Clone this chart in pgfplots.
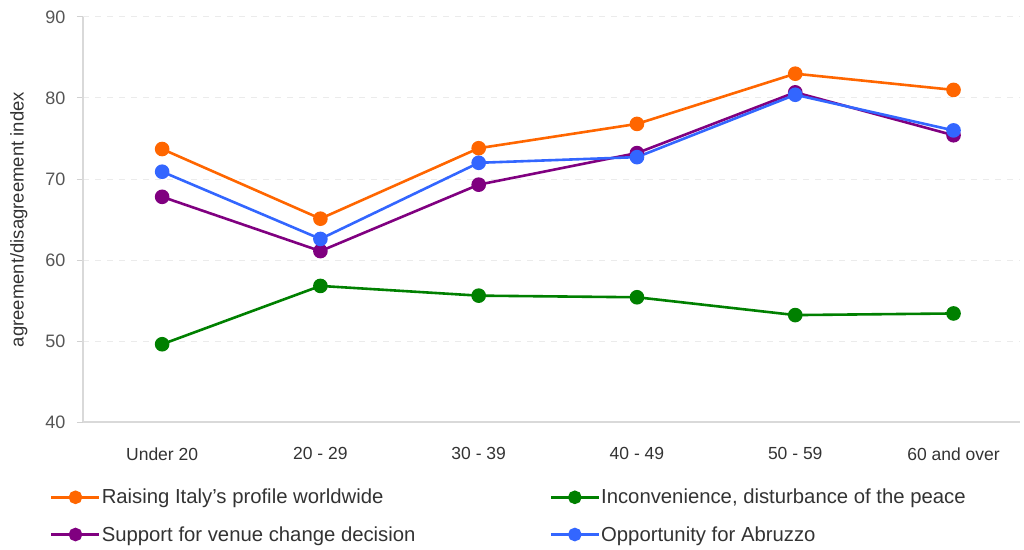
\documentclass[border=0pt]{standalone}
\usepackage{fontspec}
\setmainfont{Liberation Sans}
\usepackage{pgfplots}
\pgfplotsset{compat=1.18}
\definecolor{cOrange}{HTML}{FF6600}
\definecolor{cGreen}{HTML}{008000}
\definecolor{cPurple}{HTML}{800080}
\definecolor{cBlue}{HTML}{3366FF}
\definecolor{cText}{HTML}{333333}
\definecolor{cTick}{HTML}{555555}
\begin{document}
\begin{tikzpicture}
\useasboundingbox (-83pt,-127pt) rectangle (941pt,422pt);
\begin{axis}[
  at={(0pt,0pt)}, anchor=south west,
  scale only axis, width=937pt, height=405pt,
  xmin=-0.5, xmax=5.42, ymin=40, ymax=90,
  ytick={40,50,...,90},
  xtick={0,...,5},
  xticklabels={Under 20, 20 - 29, 30 - 39, 40 - 49, 50 - 59, 60 and over},
  major x tick style={draw=none},
  extra x ticks={-0.5,0.5,1.5,2.5,3.5,4.5},
  extra x tick labels={,,,,,},
  extra x tick style={major tick length=8pt, tick align=outside, tick style={draw=black!18, line width=1pt}, grid=none},
  major y tick style={draw=black!18, line width=1pt},
  major tick length=6pt,
  tick align=outside,
  axis x line*=bottom, axis y line*=left,
  axis line style={-, draw=black!15, line width=1.2pt},
  ymajorgrids, grid style={dashed, dash pattern=on 6pt off 6pt, draw=black!8, line width=1pt},
  font=\fontsize{17}{20}\selectfont,
  /pgf/number format/assume math mode=true,
  yticklabel style={text=cTick, font=\fontsize{18}{20}\selectfont, xshift=-8pt},
  xticklabel style={text=cText, font=\fontsize{17.5}{20}\selectfont, yshift=-16pt},
  ylabel={agreement/disagreement index},
  ylabel style={text=cText, font=\fontsize{18.5}{20}\selectfont},
  ylabel shift=11pt,
  every axis plot/.append style={line width=2.6pt, mark=*, mark size=6pt, mark options={solid}},
  legend columns=2,
  legend style={draw=none, fill=none, at={(0,0)}, anchor=north west, xshift=-36pt, yshift=-64pt,
    font=\fontsize{20.3}{22}\selectfont, text=cText, row sep=19pt,
    nodes={inner sep=1pt},
    /tikz/every even column/.append style={column sep=133pt}},
  legend cell align=left,
  legend image code/.code={\draw[#1, mark repeat=2, mark phase=2, mark size=5.5pt] plot coordinates {(0pt,0pt) (24pt,0pt) (48pt,0pt)};},
]
\addplot[color=cOrange] coordinates {(0,73.7) (1,65.1) (2,73.8) (3,76.8) (4,83.0) (5,81.0)};
\addlegendentry{Raising Italy's profile worldwide}
\addplot[color=cGreen] coordinates {(0,49.6) (1,56.8) (2,55.6) (3,55.4) (4,53.2) (5,53.4)};
\addlegendentry{Inconvenience, disturbance of the peace}
\addplot[color=cPurple] coordinates {(0,67.8) (1,61.1) (2,69.3) (3,73.2) (4,80.7) (5,75.4)};
\addlegendentry{Support for venue change decision}
\addplot[color=cBlue] coordinates {(0,70.9) (1,62.6) (2,72.0) (3,72.7) (4,80.4) (5,76.0)};
\addlegendentry{Opportunity for Abruzzo}
\end{axis}
\end{tikzpicture}
\end{document}
